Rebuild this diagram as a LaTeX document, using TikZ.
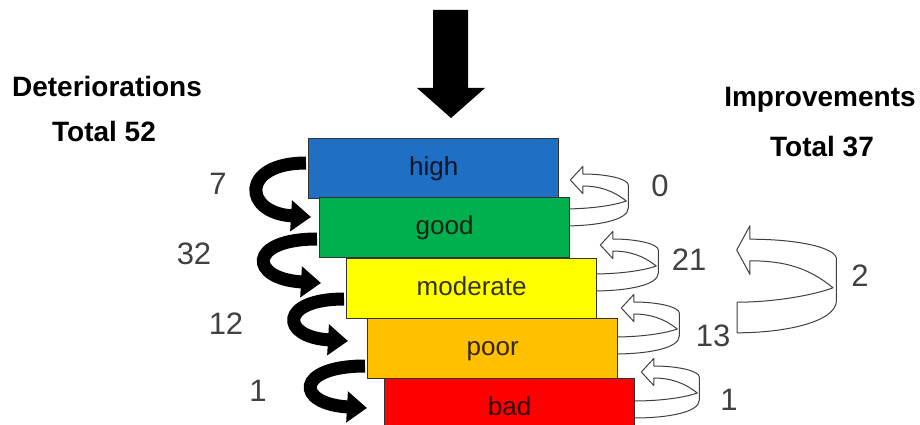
\documentclass[tikz,border=0pt]{standalone}
\usepackage{fontspec}
\setmainfont{Liberation Sans}
\usetikzlibrary{arrows.meta,calc}

\definecolor{lvhigh}{HTML}{1F6FC5}
\definecolor{lvgood}{HTML}{00B04F}
\definecolor{lvmod}{HTML}{FFFF00}
\definecolor{lvpoor}{HTML}{FFC000}
\definecolor{lvbad}{HTML}{FF0000}
\definecolor{numgray}{HTML}{404040}

\pgfdeclarelayer{back}
\pgfsetlayers{back,main}

\tikzset{
  level/.style={draw=black!80, line width=1.3pt, minimum width=250pt,
    minimum height=60pt, inner sep=0pt, anchor=north west,
    text height=18.5pt, text depth=5.5pt,
    font=\fontsize{26}{30}\selectfont, text=black, text opacity=0.8},
  heading/.style={font=\bfseries\fontsize{28}{32}\selectfont, text=black},
  count/.style={font=\fontsize{31}{36}\selectfont, text=numgray},
  down/.style={line width=13pt, black,
    -{Triangle[width=30pt,length=20pt]}},
  ringline/.style={draw=black!75, fill=white, line width=1pt, line join=round},
  ring head/.store in=\ringhead, ring head=12.5,
  ring end/.store in=\ringend, ring end=-8,
  pics/ringarrow/.style={code={
    \draw[ringline] (0,0) -- (\ringhead,-13.5) -- (\ringhead,-6)
      .. controls (37,-6) and (58,-1) .. (58,5) -- (58,28)
      .. controls (58,40) and (28,46) .. (\ringend,46) -- (\ringend,29)
      .. controls (22,29) and (45,25) .. (56,21)
      .. controls (42,10) and (28,6) .. (\ringhead,6)
      -- (\ringhead,13.5) -- cycle;
  }}
}

\begin{document}
\begin{tikzpicture}[x=1pt,y=-1pt]
\useasboundingbox (0,0) rectangle (920,425);

% status levels
\node[level, fill=lvhigh] (high)     at (308,138) {high};
\node[level, fill=lvgood] (good)     at (319,197) {good};
\node[level, fill=lvmod]  (moderate) at (346,258) {moderate};
\node[level, fill=lvpoor] (poor)     at (367,318) {poor};
\node[level, fill=lvbad]  (bad)      at (384,378) {bad};

% incoming arrow
\fill[black] (433,10) -- (468,10) -- (468,88) -- (485,88) -- (451,118)
  -- (417,88) -- (433,88) -- cycle;

% headings
\node[heading] (detlab) at (107,86)  {Deteriorations};
\node[heading] (dettot) at (104,131) {Total 52};
\node[heading] (implab) at (820,100) {Improvements};
\node[heading] (imptot) at (822,147) {Total 37};

\begin{pgfonlayer}{back}
  % deteriorations: one level down
  \draw[down] ($(high.north west)+(-2,25)$)
     .. controls +(-66,0) and +(-68,-4) .. ($(good.north west)+(-8,20)$);
  \draw[down] ($(good.north west)+(-2,42)$)
     .. controls +(-70,0) and +(-72,-4) .. ($(moderate.north west)+(-25,25)$);
  \draw[down] ($(moderate.north west)+(-2,41)$)
     .. controls +(-65,0) and +(-68,-4) .. ($(poor.north west)+(-19,23)$);
  \draw[down] ($(poor.north west)+(-2,48)$)
     .. controls +(-70,0) and +(-72,-4) .. ($(bad.north west)+(-17,30)$);

  % improvements: one level up
  \pic at ($(good.north east)+(0,-17)$) {ringarrow};
  \pic at ($(moderate.north east)+(3,-13)$) {ringarrow};
  \pic at ($(poor.north east)+(3,-10)$) {ringarrow};
  \pic at ($(bad.north east)+(6,-6)$) {ringarrow};
\end{pgfonlayer}

% improvements over two levels
\pic[xscale=1.72, yscale=1.8, ring head=7.7, ring end=0.3] at (736.7,250) {ringarrow};

% counts
\node[count] (n7)  at (218,184) {7};
\node[count] (n32) at (194,254) {32};
\node[count] (n12) at (226,324) {12};
\node[count] (n1d) at (258,391) {1};
\node[count] (n0)  at (660,186) {0};
\node[count] (n21) at (689,260) {21};
\node[count] (n13) at (713,336) {13};
\node[count] (n1u) at (729,400) {1};
\node[count] (n2)  at (860,276) {2};
\end{tikzpicture}
\end{document}
